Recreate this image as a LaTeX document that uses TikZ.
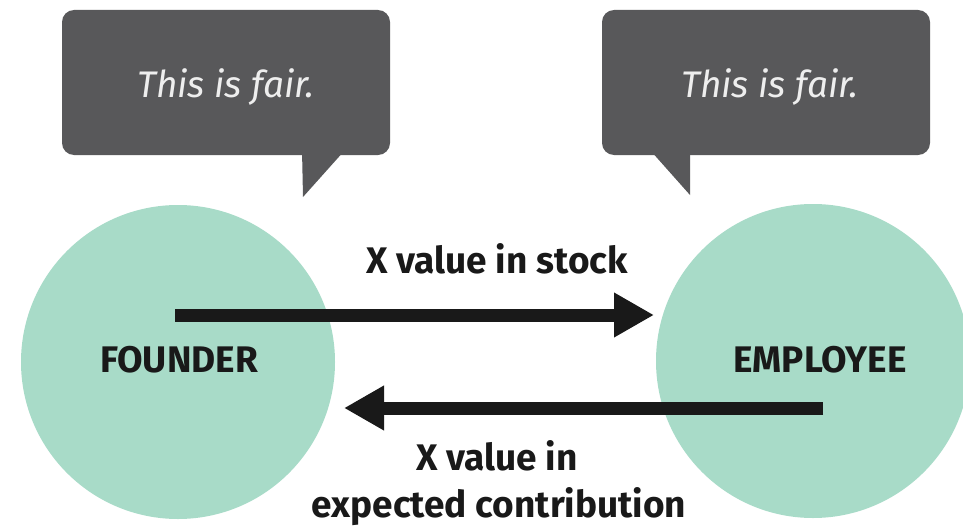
\documentclass[tikz,border=0pt]{standalone}
\usepackage{fontspec}
\setmainfont{Fira Sans}
\usetikzlibrary{arrows.meta}
\definecolor{teal}{RGB}{168,219,200}
\definecolor{bubgray}{RGB}{88,88,90}
\definecolor{bubtext}{RGB}{238,238,238}
\definecolor{ink}{RGB}{25,25,25}
\tikzset{
  party/.style={circle, fill=teal, draw=none, minimum size=314pt, inner sep=0pt},
  bubble/.style={rectangle, rounded corners=12pt, fill=bubgray, draw=none,
    minimum width=328pt, minimum height=145pt, inner sep=0pt,
    text=bubtext, font=\fontsize{37}{44}\selectfont\itshape},
  tail/.style={fill=bubgray, draw=none},
  lbl/.style={text=ink, font=\fontsize{37}{47}\selectfont\bfseries, inner sep=0pt, align=center},
  bigarrow/.style={draw=ink, line width=13pt, -{Triangle[length=40pt, width=42pt]}}
}
\begin{document}
\begin{tikzpicture}[x=1pt, y=-1pt]
\useasboundingbox (0,0) rectangle (963,527);
% circles
\node[party] (founder) at (178,362) {};
\node[party] (employee) at (813,361) {};
% bubbles
\node[bubble] (bubL) at (226,82.5) {};
\node[bubble] (bubR) at (766,82.5) {};
\coordinate (tlA) at (302,150);
\coordinate (tlTip) at (303,197);
\coordinate (tlB) at (345,150);
\coordinate (trA) at (650,150);
\coordinate (trTip) at (690,195);
\coordinate (trB) at (690,150);
\fill[tail] (tlA) -- (tlTip) -- (tlB) -- cycle;
\fill[tail] (trA) -- (trTip) -- (trB) -- cycle;
\node[text=bubtext, font=\fontsize{37}{44}\selectfont\itshape, anchor=base, inner sep=0pt] (txtL) at (226,97) {This is fair.};
\node[text=bubtext, font=\fontsize{37}{44}\selectfont\itshape, anchor=base, inner sep=0pt] (txtR) at (770,97) {This is fair.};
% labels
\node[lbl, anchor=base] (lf) at (179,372) {FOUNDER};
\node[lbl, anchor=base] (le) at (820,372) {EMPLOYEE};
\node[lbl, anchor=base] (top) at (497,273) {X value in stock};
\node[lbl, anchor=base] (bot1) at (497,470) {X value in};
\node[lbl, anchor=base] (bot2) at (499,517) {expected contribution};
% arrows
\coordinate (a1s) at (175,315);
\coordinate (a1e) at (654,315);
\coordinate (a2s) at (823,408);
\coordinate (a2e) at (344,408);
\draw[bigarrow] (a1s) -- (a1e);
\draw[bigarrow] (a2s) -- (a2e);
\end{tikzpicture}
\end{document}
